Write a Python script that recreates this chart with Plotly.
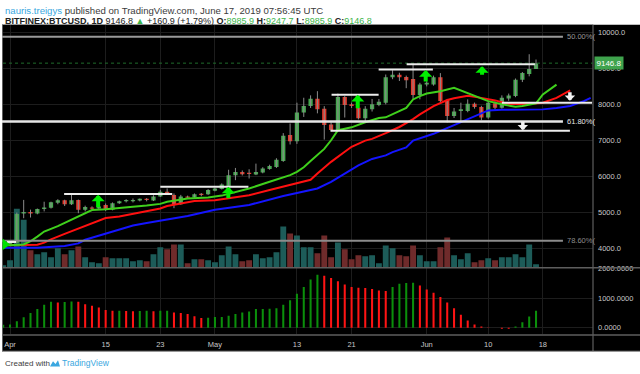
import pandas as pd
import plotly.graph_objects as go

W, H = 640, 374

# ---------------- data ----------------
dates = pd.date_range("2019-03-31", "2019-06-17", freq="D")

opens = [4090, 4100, 4140, 4960, 5005, 4960, 5090, 5120, 5260, 5330, 5220, 5340, 5066, 5125, 5100, 5200,
         5066, 5250, 5300, 5315, 5325, 5365, 5322, 5432, 5569, 5478, 5221, 5432, 5404, 5505, 5496,
         5597, 5643, 5707, 6028, 6120, 6092, 6046, 6102, 6202, 6257, 6422, 7147, 6973, 7771, 7954, 8156,
         7881, 7441, 7285, 8202, 8000, 7908, 7615, 7863, 7982, 8046, 8752, 8826, 8762, 8707, 8257,
         8551, 8551, 8752, 8120, 7679, 7817, 7817, 8018, 7927, 7633, 8028, 7908, 8165, 8230, 8688, 8844, 8985.9]
highs = [4120, 4160, 4990, 5340, 5070, 5100, 5290, 5290, 5360, 5345, 5480, 5350, 5180, 5160, 5190, 5240,
         5270, 5320, 5360, 5380, 5380, 5390, 5470, 5620, 5660, 5520, 5480, 5460, 5520, 5530, 5640,
         5680, 5800, 6180, 6230, 6160, 6193, 6350, 6250, 6320, 6500, 7200, 7468, 8046, 8184, 8250, 8367,
         7950, 7500, 8300, 8230, 8050, 8040, 7950, 8150, 8150, 8830, 8950, 8880, 8800, 9101, 8600,
         8640, 8800, 8870, 8150, 7900, 8046, 8138, 8050, 7960, 8100, 8080, 8250, 8300, 8720, 8900, 9395, 9247.7]
lows = [4070, 4080, 4130, 4830, 4850, 4940, 5020, 5100, 5220, 5170, 5200, 4970, 5020, 5070, 5060, 5030,
        5050, 5230, 5270, 5270, 5300, 5300, 5310, 5420, 5480, 5110, 5200, 5380, 5380, 5440, 5480,
        5580, 5630, 5690, 5890, 6020, 5936, 6030, 6080, 6180, 6230, 6400, 6883, 6900, 7650, 7900, 7750,
        7019, 7250, 7250, 7633, 7900, 7580, 7520, 7800, 7950, 8000, 8700, 8650, 8450, 8150, 8140,
        8500, 8520, 8060, 7496, 7620, 7542, 7780, 7880, 7560, 7600, 7850, 7880, 8100, 8200, 8620, 8780, 8985.9]
closes = [4100, 4140, 4950, 5005, 4960, 5090, 5130, 5275, 5330, 5220, 5330, 5066, 5140, 5100, 5160, 5066,
          5250, 5300, 5340, 5330, 5370, 5345, 5432, 5569, 5524, 5221, 5432, 5404, 5496, 5485, 5615,
          5661, 5771, 6028, 6120, 6056, 6065, 6120, 6212, 6285, 6459, 7129, 6973, 7771, 7954, 8156, 7863,
          7422, 7285, 8202, 7982, 7954, 7615, 7881, 8000, 8074, 8752, 8826, 8752, 8670, 8257, 8551,
          8600, 8752, 8092, 7679, 7798, 7863, 8018, 7927, 7633, 8046, 7908, 8184, 8248, 8688, 8872, 8985.9, 9146.8]

volumes = [2, 7, 59, 48, 17, 13, 15, 10, 19, 13, 17, 21, 10, 5, 4, 10, 9, 9, 9, 6, 7, 6, 13, 20, 18, 23, 23, 4, 8, 8, 7,
           5, 12, 21, 13, 6, 7, 13, 9, 10, 15, 41, 34, 32, 20, 20, 14, 32, 10, 25, 18, 8, 12, 11, 12, 4, 22, 19, 12, 11, 22, 12,
           6, 6, 20, 30, 12, 8, 14, 5, 7, 9, 7, 10, 10, 13, 10, 23, 3]
volumes = [v * 1000 for v in volumes]
vol_up = [1, 1, 1, 1, 0, 1, 1, 1, 1, 0, 1, 0, 1, 1, 1, 0, 1, 1, 1, 1, 1, 0, 1, 1, 0, 0, 1, 0, 1, 0, 1,
          1, 1, 1, 1, 0, 0, 1, 1, 1, 1, 1, 0, 1, 1, 1, 0, 0, 0, 1, 0, 0, 0, 1, 1, 1, 1, 1, 0, 0, 0, 1,
          1, 1, 0, 0, 1, 1, 1, 0, 0, 1, 0, 1, 1, 1, 1, 1, 1]

ao = [100, 110, 220, 355, 500, 635, 780, 880, 860, 875, 890, 880, 800, 745, 690, 600, 575, 580, 570, 565,
      570, 575, 565, 575, 580, 520, 500, 465, 390, 335, 340,
      365, 370, 410, 465, 520, 555, 635, 640, 645, 665, 780, 935, 1155, 1380, 1635, 1800, 1765, 1690, 1580,
      1465, 1380, 1355, 1350, 1320, 1265, 1245, 1380, 1490, 1520, 1525, 1435,
      1300, 1190, 1045, 855, 665, 445, 245, 110, 45, 10, 5, -30, -30, 45, 190, 380, 575]
ao_col = "ggggggggrggrrrrrrgrrggrggrrrrrg" + "g" * 16 + "r" * 10 + "g" * 4 + "r" + "r" * 13 + "g" * 4

lips_dates = ["2019-03-31", "2019-04-01", "2019-04-03", "2019-04-04", "2019-04-05", "2019-04-06", "2019-04-08",
              "2019-04-10", "2019-04-12", "2019-04-13", "2019-04-15", "2019-04-17", "2019-04-19", "2019-04-21",
              "2019-04-23", "2019-04-24", "2019-04-27", "2019-04-30", "2019-05-02", "2019-05-06", "2019-05-09",
              "2019-05-12", "2019-05-13", "2019-05-14", "2019-05-15", "2019-05-16", "2019-05-17", "2019-05-18",
              "2019-05-19", "2019-05-20", "2019-05-21", "2019-05-23", "2019-05-25", "2019-05-26", "2019-05-28",
              "2019-05-29", "2019-05-30", "2019-05-31", "2019-06-01", "2019-06-03", "2019-06-05", "2019-06-07",
              "2019-06-09", "2019-06-10", "2019-06-12", "2019-06-14", "2019-06-15", "2019-06-17", "2019-06-18",
              "2019-06-19", "2019-06-20"]
lips_vals = [4075, 4075, 4100, 4190, 4320, 4460, 4610, 4790, 4970, 5060, 5080, 5110, 5150, 5185, 5230, 5290,
             5380, 5410, 5460, 5660, 5845, 6030, 6120, 6250, 6420, 6580, 6760, 7000, 7280, 7320, 7360, 7500,
             7620, 7640, 7817, 7900, 8137, 8230, 8300, 8367, 8460, 8320, 8180, 8090, 8000, 7935, 7955, 8030,
             8275, 8410, 8550]

teeth_dates = ["2019-03-31", "2019-04-02", "2019-04-05", "2019-04-06", "2019-04-07", "2019-04-09", "2019-04-11",
               "2019-04-13", "2019-04-15", "2019-04-17", "2019-04-19", "2019-04-21", "2019-04-23", "2019-04-24",
               "2019-04-28", "2019-05-01", "2019-05-03", "2019-05-06", "2019-05-09", "2019-05-12", "2019-05-15",
               "2019-05-16", "2019-05-17", "2019-05-18", "2019-05-20", "2019-05-21", "2019-05-23", "2019-05-24",
               "2019-05-26", "2019-05-28", "2019-05-30", "2019-05-31", "2019-06-02", "2019-06-04", "2019-06-05",
               "2019-06-07", "2019-06-09", "2019-06-11", "2019-06-13", "2019-06-16", "2019-06-18", "2019-06-20",
               "2019-06-22"]
teeth_vals = [4075, 4075, 4095, 4150, 4240, 4395, 4540, 4670, 4835, 4880, 4950, 5030, 5100, 5170, 5310, 5330,
              5385, 5470, 5615, 5750, 5900, 6075, 6230, 6400, 6680, 6820, 6990, 7040, 7200, 7370, 7587, 7720,
              7950, 8120, 8170, 8240, 8180, 8110, 8010, 8010, 8045, 8180, 8390]

jaw_dates = ["2019-03-31", "2019-04-05", "2019-04-09", "2019-04-11", "2019-04-12", "2019-04-13", "2019-04-15",
             "2019-04-17", "2019-04-19", "2019-04-21", "2019-04-23", "2019-04-27", "2019-05-01", "2019-05-06",
             "2019-05-11", "2019-05-14", "2019-05-16", "2019-05-18", "2019-05-20", "2019-05-22", "2019-05-24",
             "2019-05-26", "2019-05-27", "2019-05-29", "2019-05-30", "2019-06-02", "2019-06-05", "2019-06-07",
             "2019-06-09", "2019-06-10", "2019-06-12", "2019-06-18", "2019-06-20", "2019-06-22", "2019-06-24",
             "2019-06-25"]
jaw_vals = [4010, 4010, 4055, 4130, 4230, 4285, 4395, 4515, 4630, 4700, 4760, 4890, 5065, 5200, 5450, 5570,
            5660, 5845, 6075, 6300, 6480, 6580, 6670, 6800, 6990, 7180, 7420, 7580, 7740, 7830, 7850, 7860,
            7900, 7955, 8090, 8180]

tick_dates = ["2019-04-01", "2019-04-15", "2019-04-23", "2019-05-01", "2019-05-13", "2019-05-21",
              "2019-06-01", "2019-06-10", "2019-06-18"]
tick_text = ["Apr", "15", "23", "May", "13", "21", "Jun", "10", "18"]
price_ticks = [4000, 5000, 6000, 7000, 8000, 9000, 10000]
ao_ticks = [0, 1000, 2000]
ao_tick_text = ["0.0000", "1000.0000", "2000.0000"]

fib_levels = [9882, 7523, 4207]
fib_labels = ["50.00%(", "61.80%(", "78.60%("]
fib_end_day = 80.94

# user-drawn horizontal levels: start day, end day (from Apr 1), price
seg_start = [-0.44, 7.92, 22.0, 47.07, 53.96, 58.06, 46.92, 72.0]
seg_end = [0.88, 23.75, 34.9, 53.96, 61.9, 76.83, 81.96, 85.2]
seg_level = [4166, 5506, 5707, 8266, 8973, 9119, 7262, 8046]

# arrow drawings: day, tip price
up_day = [12.9, 31.96, 50.9, 60.85, 69.1]
up_tip = [5487, 5707, 8266, 8954, 9064]
up_len = [14, 13, 15, 13, 10]
down_day = [81.96, 75.07]
down_tip = [8101, 7276]

last_price = 9146.8

# ---------------- helpers ----------------
base = pd.Timestamp("2019-04-01")
DAY_MS = 86400000


def dday(d):
    return base + pd.Timedelta(days=d)


def px(x):
    return x / W


def py(y):
    return 1 - y / H


GREEN_UP = "#45a84f"
RED_DN = "#e3382b"
FONT = "Liberation Sans, Arial, sans-serif"

fig = go.Figure()

# volume (base y axis)
fig.add_trace(go.Bar(
    x=dates, y=volumes, xaxis="x", yaxis="y",
    marker=dict(color=["#1d5c59" if u else "#6f2b2b" for u in vol_up], line=dict(width=0)),
    width=0.86 * DAY_MS))

# wicks
wx, wy = [], []
for d, h, l in zip(dates, highs, lows):
    wx += [d, d, None]
    wy += [h, l, None]
fig.add_trace(go.Scatter(x=wx, y=wy, mode="lines", xaxis="x", yaxis="y2",
                         line=dict(color="#8a8a8a", width=1)))

# candle bodies
body_h, body_b, body_c = [], [], []
for o, c in zip(opens, closes):
    hgt = max(abs(c - o), 35)
    mid = (o + c) / 2
    body_h.append(hgt)
    body_b.append(mid - hgt / 2)
    body_c.append(GREEN_UP if c >= o else RED_DN)
fig.add_trace(go.Bar(x=dates, y=body_h, base=body_b, xaxis="x", yaxis="y2",
                     marker=dict(color=body_c, line=dict(width=0)), width=0.62 * DAY_MS))

# alligator lines
fig.add_trace(go.Scatter(x=jaw_dates, y=jaw_vals, mode="lines", xaxis="x", yaxis="y2",
                         line=dict(color="#1414ff", width=2)))
fig.add_trace(go.Scatter(x=teeth_dates, y=teeth_vals, mode="lines", xaxis="x", yaxis="y2",
                         line=dict(color="#ff1010", width=2)))
fig.add_trace(go.Scatter(x=lips_dates, y=lips_vals, mode="lines", xaxis="x", yaxis="y2",
                         line=dict(color="#3fcf1c", width=2)))

# awesome oscillator
fig.add_trace(go.Bar(x=dates, y=ao, xaxis="x2", yaxis="y3",
                     marker=dict(color=["#0b8f0b" if c == "g" else "#ff1414" for c in ao_col],
                                 line=dict(width=0)),
                     width=0.3 * DAY_MS))

x_range = [dday(-1.173), dday(85.34)]
grid = "#1d1d1d"
axis_font = dict(family=FONT, size=7.5, color="#c8c8c8")

fig.update_layout(
    width=W, height=H, margin=dict(l=0, r=0, t=0, b=0),
    paper_bgcolor="white", plot_bgcolor="black",
    showlegend=False, barmode="overlay", hovermode=False,
    font=dict(family=FONT),
    xaxis=dict(domain=[px(2), px(593)], range=x_range, anchor="y", showticklabels=False,
               tickvals=tick_dates, showgrid=True, gridcolor=grid, zeroline=False, ticks=""),
    xaxis2=dict(domain=[px(2), px(593)], range=x_range, matches="x", anchor="y3",
                tickvals=tick_dates, ticktext=tick_text, tickfont=axis_font,
                showgrid=True, gridcolor=grid, zeroline=False, ticks="", ticklabelstandoff=4),
    yaxis=dict(domain=[py(266), py(21)], range=[0, 245000], visible=False, fixedrange=True),
    yaxis2=dict(overlaying="y", anchor="x", side="right", range=[3468.6, 10214.8],
                tickvals=price_ticks, tickformat=".1f", showgrid=True, gridcolor=grid,
                zeroline=False, ticks="", tickfont=axis_font, ticklabelstandoff=4),
    yaxis3=dict(domain=[py(334), py(267)], anchor="x2", side="right", range=[-224.8, 2023.5],
                tickvals=ao_ticks, ticktext=ao_tick_text, showgrid=True, gridcolor=grid,
                zeroline=False, ticks="", tickfont=axis_font, ticklabelstandoff=4),
)

shapes = []
# black chart background
shapes.append(dict(type="rect", xref="paper", yref="paper", x0=px(2), x1=px(640), y0=py(351), y1=py(21),
                   fillcolor="black", line=dict(width=0), layer="below"))
# pane separators / frame
sep = "#5e5e5e"
shapes.append(dict(type="line", xref="paper", yref="paper", x0=px(593), x1=px(593), y0=py(351), y1=py(21),
                   line=dict(color=sep, width=1.2)))
shapes.append(dict(type="line", xref="paper", yref="paper", x0=px(2), x1=px(640), y0=py(266.5), y1=py(266.5),
                   line=dict(color=sep, width=1.5)))
shapes.append(dict(type="line", xref="paper", yref="paper", x0=px(2), x1=px(640), y0=py(334.5), y1=py(334.5),
                   line=dict(color=sep, width=1.5)))
shapes.append(dict(type="line", xref="paper", yref="paper", x0=px(2.5), x1=px(2.5), y0=py(351), y1=py(21),
                   line=dict(color=sep, width=1)))
shapes.append(dict(type="line", xref="paper", yref="paper", x0=px(2), x1=px(640), y0=py(351), y1=py(351),
                   line=dict(color="#8a8a8a", width=1)))
# last price dotted line
shapes.append(dict(type="line", xref="paper", yref="y2", x0=px(3), x1=px(593), y0=last_price, y1=last_price,
                   line=dict(color="#1f6b2a", width=1, dash="dot")))
# fib levels
fib_colors = ["#9a9a9a", "#e6e6e6", "#8c8c8c"]
fib_widths = [2, 2.5, 2]
for lvl, col, wd in zip(fib_levels, fib_colors, fib_widths):
    shapes.append(dict(type="line", xref="x", yref="y2", x0=dday(-1.2), x1=dday(fib_end_day), y0=lvl, y1=lvl,
                       line=dict(color=col, width=wd)))
# drawn levels
for s, e, lv in zip(seg_start, seg_end, seg_level):
    shapes.append(dict(type="line", xref="x", yref="y2", x0=dday(s), x1=dday(e), y0=lv, y1=lv,
                       line=dict(color="#ececec", width=2)))
# green marker at left
shapes.append(dict(type="path", xref="paper", yref="paper",
                   path=f"M {px(2.5)},{py(237)} L {px(10)},{py(243)} L {px(2.5)},{py(249)} Z",
                   fillcolor="#00e000", line=dict(width=0)))
# TradingView logo (footer)
shapes.append(dict(type="path", xref="paper", yref="paper",
                   path=f"M {px(50)},{py(366.5)} L {px(53)},{py(361)} L {px(55.5)},{py(364)} "
                        f"L {px(58)},{py(360)} L {px(60)},{py(366.5)} Z",
                   fillcolor="#3aa7e0", line=dict(width=0)))

annotations = []
for lvl, lab, col in zip(fib_levels, fib_labels, fib_colors):
    annotations.append(dict(xref="paper", yref="y2", x=px(565), y=lvl, xanchor="left", yanchor="middle",
                            text=lab, showarrow=False, font=dict(family=FONT, size=7.5, color=col)))
for d, tp, ln in zip(up_day, up_tip, up_len):
    annotations.append(dict(xref="x", yref="y2", x=dday(d), y=tp, ax=0, ay=ln, axref="pixel", ayref="pixel",
                            text="", showarrow=True, arrowhead=1, arrowsize=0.55, arrowwidth=4,
                            arrowcolor="#00ee00"))
for d, tp in zip(down_day, down_tip):
    annotations.append(dict(xref="x", yref="y2", x=dday(d), y=tp, ax=0, ay=-10, axref="pixel", ayref="pixel",
                            text="", showarrow=True, arrowhead=1, arrowsize=0.5, arrowwidth=3.5,
                            arrowcolor="#f2f2f2"))
# last price label
annotations.append(dict(xref="paper", yref="y2", x=px(593.5), y=last_price, xanchor="left", yanchor="middle",
                        text="9146.8", showarrow=False, bgcolor="#3fa34d", borderpad=1.5,
                        font=dict(family=FONT, size=8, color="white")))
# header
annotations.append(dict(xref="paper", yref="paper", x=px(3), y=py(7), xanchor="left", yanchor="middle",
                        showarrow=False, font=dict(family=FONT, size=9.6, color="#3c3c3c"),
                        text='<span style="color:#3aa7e0">nauris.treigys</span> published on TradingView.com, '
                             'June 17, 2019 07:56:45 UTC'))
g = "#3cb54a"
annotations.append(dict(xref="paper", yref="paper", x=px(3), y=py(17), xanchor="left", yanchor="middle",
                        showarrow=False, font=dict(family=FONT, size=9, color="#222222"),
                        text=f'<b>BITFINEX:BTCUSD, 1D</b> 9146.8 <span style="color:{g}">▲</span> +160.9 (+1.79%) '
                             f'<b>O:</b><span style="color:{g}">8985.9</span> '
                             f'<b>H:</b><span style="color:{g}">9247.7</span> '
                             f'<b>L:</b><span style="color:{g}">8985.9</span> '
                             f'<b>C:</b><span style="color:{g}">9146.8</span>'))
# footer
annotations.append(dict(xref="paper", yref="paper", x=px(3), y=py(363), xanchor="left", yanchor="middle",
                        showarrow=False, font=dict(family=FONT, size=8, color="#3c3c3c"),
                        text="Created with"))
annotations.append(dict(xref="paper", yref="paper", x=px(60), y=py(363), xanchor="left", yanchor="middle",
                        showarrow=False, font=dict(family=FONT, size=8.5, color="#3aa7e0"),
                        text="TradingView"))

fig.update_layout(shapes=shapes, annotations=annotations)
fig.write_html("out.html", config={"displayModeBar": False, "staticPlot": True},
               post_script="document.body.style.margin='0';document.body.style.padding='0';"
                           "document.documentElement.style.overflow='hidden';")
